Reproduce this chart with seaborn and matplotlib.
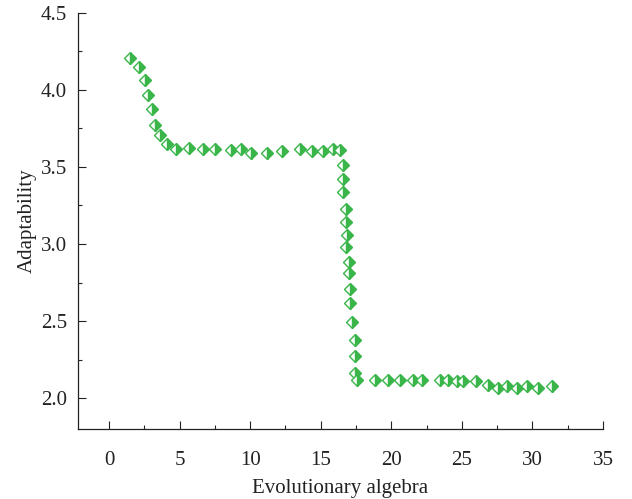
import matplotlib
matplotlib.use("Agg")
import matplotlib.pyplot as plt
from matplotlib.ticker import MultipleLocator
import seaborn as sns
import pandas as pd

generation = [1.45, 2.15, 2.55, 2.78, 3.03, 3.26, 3.61, 4.13, 4.75, 5.69,
              6.64, 7.51, 8.64, 9.35, 10.06, 11.17, 12.24, 13.53, 14.36, 15.18,
              15.89, 16.37,
              16.56, 16.56, 16.60, 16.79, 16.79, 16.88, 16.79, 17.03, 17.03, 17.08,
              17.08, 17.20, 17.43, 17.43, 17.43, 17.55,
              18.85, 19.79, 20.62, 21.56, 22.16, 23.45, 24.04, 24.64, 25.10, 26.00,
              26.87, 27.58, 28.18, 28.89, 29.60, 30.42, 31.37]
adaptability = [4.205, 4.147, 4.065, 3.968, 3.877, 3.769, 3.705, 3.651, 3.618, 3.622,
                3.614, 3.614, 3.607, 3.614, 3.592, 3.592, 3.600, 3.614, 3.600, 3.600,
                3.614, 3.611,
                3.510, 3.424, 3.338, 3.230, 3.144, 3.058, 2.982, 2.885, 2.810, 2.707,
                2.616, 2.497, 2.378, 2.275, 2.163, 2.120,
                2.120, 2.120, 2.120, 2.120, 2.120, 2.120, 2.120, 2.113, 2.113, 2.109,
                2.087, 2.066, 2.076, 2.066, 2.076, 2.066, 2.076]

x_ticks = [0, 5, 10, 15, 20, 25, 30, 35]
y_ticks = [2.0, 2.5, 3.0, 3.5, 4.0, 4.5]

df = pd.DataFrame({"Evolutionary algebra": generation, "Adaptability": adaptability})

sns.set_style("ticks")
plt.rcParams["font.family"] = ["Liberation Serif", "DejaVu Serif"]

green = "#3ab54a"
fig = plt.figure(figsize=(6.32, 4.99), dpi=100)
ax = fig.add_axes([0.1234, 0.1403, 0.8307, 0.8342])

sns.lineplot(data=df, x="Evolutionary algebra", y="Adaptability", ax=ax,
             sort=False, estimator=None, linestyle="", marker="D",
             color=green, markersize=6.4, markeredgewidth=1.0,
             markeredgecolor=green, markerfacecolor=green,
             fillstyle="right", markerfacecoloralt="white")

ax.set_xlim(-2.2, 35)
ax.set_ylim(1.8, 4.5)
ax.set_xticks(x_ticks)
ax.set_yticks(y_ticks)
ax.set_xticklabels([str(t) for t in x_ticks])
ax.set_yticklabels([f"{t:.1f}" for t in y_ticks])
ax.xaxis.set_minor_locator(MultipleLocator(2.5))
ax.yaxis.set_minor_locator(MultipleLocator(0.25))
ax.tick_params(which="major", direction="in", length=6, width=0.8, labelsize=15,
               colors="#222222", pad=8)
ax.tick_params(axis="x", which="major", pad=16)
ax.tick_params(which="minor", direction="in", length=3, width=0.8)
ax.tick_params(axis="y", which="minor", left=True)
for side in ["top", "right"]:
    ax.spines[side].set_visible(False)
for side in ["left", "bottom"]:
    ax.spines[side].set_linewidth(0.9)
    ax.spines[side].set_color("#222222")

ax.set_xlabel("Evolutionary algebra", fontsize=15, color="#222222", labelpad=6)
ax.set_ylabel("Adaptability", fontsize=15, color="#222222", labelpad=3)

fig.savefig("out.png", dpi=100)
